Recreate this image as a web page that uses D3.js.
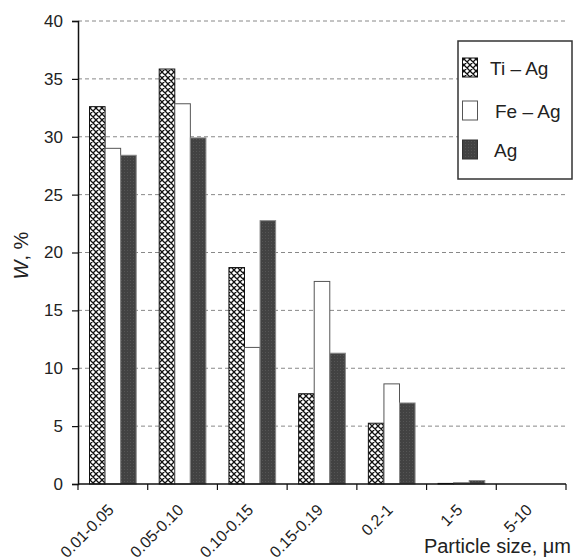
<!DOCTYPE html>
<html>
<head>
    <meta charset="utf-8" />
    <title>Particle size distribution</title>
    <script src="https://d3js.org/d3.v7.min.js" charset="utf-8"></script>
    <style>
        body { margin: 0; background: #fff; }
        text { font-family: "Liberation Sans", Arial, sans-serif; fill: #222; }
    </style>
</head>
<body>
    <script>
        // Data
        const categories = ["0.01-0.05", "0.05-0.10", "0.10-0.15", "0.15-0.19", "0.2-1", "1-5", "5-10"];
        const seriesNames = ["Ti \u2013 Ag", "Fe \u2013 Ag", "Ag"];
        const tiAg = [32.6, 35.85, 18.7, 7.8, 5.25, 0.05, 0];
        const feAg = [29.0, 32.85, 11.8, 17.5, 8.65, 0.1, 0];
        const ag   = [28.4, 29.9, 22.75, 11.3, 7.0, 0.3, 0];
        const yTicks = [0, 5, 10, 15, 20, 25, 30, 35, 40];

        const width = 574, height = 560;
        const margin = { top: 21, right: 8, bottom: 76, left: 78 };

        const svg = d3.select("body").append("svg")
            .attr("width", width)
            .attr("height", height);

        // cross-hatch pattern for Ti-Ag
        const defs = svg.append("defs");
        const pat = defs.append("pattern")
            .attr("id", "hatch")
            .attr("patternUnits", "userSpaceOnUse")
            .attr("width", 6).attr("height", 6);
        pat.append("rect").attr("width", 6).attr("height", 6).attr("fill", "#fff");
        pat.append("path")
            .attr("d", "M-1,-1 L7,7 M7,-1 L-1,7 M-1,5 L1,7 M5,-1 L7,1 M-1,1 L1,-1 M5,7 L7,5")
            .attr("stroke", "#111").attr("stroke-width", 1.3);

        // stipple for Ag
        const dots = defs.append("pattern")
            .attr("id", "stipple")
            .attr("patternUnits", "userSpaceOnUse")
            .attr("width", 3).attr("height", 3);
        dots.append("rect").attr("width", 3).attr("height", 3).attr("fill", "#424242");
        dots.append("rect").attr("x", 1).attr("y", 1).attr("width", 1).attr("height", 1).attr("fill", "#555");

        const x0 = d3.scaleBand()
            .domain(categories)
            .range([margin.left, width - margin.right]);

        const groupW = x0.bandwidth() * 0.67;
        const x1 = d3.scaleBand()
            .domain(seriesNames)
            .range([0, groupW]);

        const y = d3.scaleLinear()
            .domain([0, 40])
            .range([height - margin.bottom, margin.top]);

        // gridlines
        svg.append("g")
            .selectAll("line")
            .data(yTicks.filter(d => d > 0))
            .enter().append("line")
            .attr("x1", margin.left)
            .attr("x2", width - margin.right)
            .attr("y1", d => y(d))
            .attr("y2", d => y(d))
            .attr("stroke", "#888")
            .attr("stroke-width", 1)
            .attr("stroke-dasharray", "4,3");

        // bars
        const series = [
            { name: seriesNames[0], values: tiAg, fill: "url(#hatch)", stroke: "#111" },
            { name: seriesNames[1], values: feAg, fill: "#fff", stroke: "#555" },
            { name: seriesNames[2], values: ag, fill: "url(#stipple)", stroke: "#888" }
        ];

        const offset = (x0.bandwidth() - groupW) / 2;

        series.forEach(s => {
            svg.append("g")
                .selectAll("rect")
                .data(categories.map((c, i) => ({ c: c, v: s.values[i] })))
                .enter().append("rect")
                .attr("x", d => x0(d.c) + offset + x1(s.name))
                .attr("y", d => y(d.v))
                .attr("width", x1.bandwidth())
                .attr("height", d => y(0) - y(d.v))
                .attr("fill", s.fill)
                .attr("stroke", s.stroke)
                .attr("stroke-width", 1);
        });

        // y axis
        const yAxis = svg.append("g")
            .attr("transform", `translate(${margin.left},0)`)
            .call(d3.axisLeft(y).tickValues(yTicks).tickSize(6).tickPadding(9));
        yAxis.select(".domain").attr("stroke", "#111").attr("stroke-width", 1.5);
        yAxis.selectAll(".tick line").attr("stroke", "#111").attr("stroke-width", 1.2);
        yAxis.selectAll(".tick text")
            .attr("font-size", "17px")
            .attr("font-family", "Liberation Sans, Arial, sans-serif")
            .attr("fill", "#222");

        // x axis
        const xAxis = svg.append("g")
            .attr("transform", `translate(0,${y(0)})`);
        xAxis.append("line")
            .attr("x1", margin.left).attr("x2", width - margin.right)
            .attr("stroke", "#111").attr("stroke-width", 1.5);
        const bounds = categories.map(c => x0(c)).concat([x0.range()[1]]);
        xAxis.selectAll(".xtick")
            .data(bounds)
            .enter().append("line")
            .attr("x1", d => d).attr("x2", d => d)
            .attr("y1", 0).attr("y2", 6)
            .attr("stroke", "#111").attr("stroke-width", 1.2);
        xAxis.selectAll(".xlabel")
            .data(categories)
            .enter().append("text")
            .attr("text-anchor", "end")
            .attr("font-size", "16px")
            .attr("transform", d => `translate(${x0(d) + x0.bandwidth() / 2 + 2},27) rotate(-45)`)
            .text(d => d);

        // axis titles
        svg.append("text")
            .attr("text-anchor", "end")
            .attr("x", width - 3)
            .attr("y", 553)
            .attr("font-size", "20px")
            .text("Particle size, \u03bcm");

        const yTitle = svg.append("text")
            .attr("transform", `translate(28,${(margin.top + y(0)) / 2 + 3}) rotate(-90)`)
            .attr("text-anchor", "middle")
            .attr("font-size", "20px");
        yTitle.append("tspan").attr("font-style", "italic").text("W");
        yTitle.append("tspan").text(", %");

        // legend
        const legend = svg.append("g").attr("transform", "translate(458,41)");
        legend.append("rect")
            .attr("width", 114).attr("height", 138)
            .attr("fill", "#fff")
            .attr("stroke", "#333").attr("stroke-width", 1.5);
        const legendRows = [
            { s: series[0], ty: 34, tx: 32 },
            { s: series[1], ty: 77, tx: 37 },
            { s: series[2], ty: 116, tx: 36 }
        ];
        legendRows.forEach(r => {
            legend.append("rect")
                .attr("x", 4.5).attr("y", r.ty - 17)
                .attr("width", 15).attr("height", 19)
                .attr("fill", r.s.fill)
                .attr("stroke", r.s.stroke === "#888" ? "#333" : r.s.stroke)
                .attr("stroke-width", 1);
            legend.append("text")
                .attr("x", r.tx).attr("y", r.ty)
                .attr("font-size", "19px")
                .text(r.s.name);
        });
    </script>
</body>
</html>
